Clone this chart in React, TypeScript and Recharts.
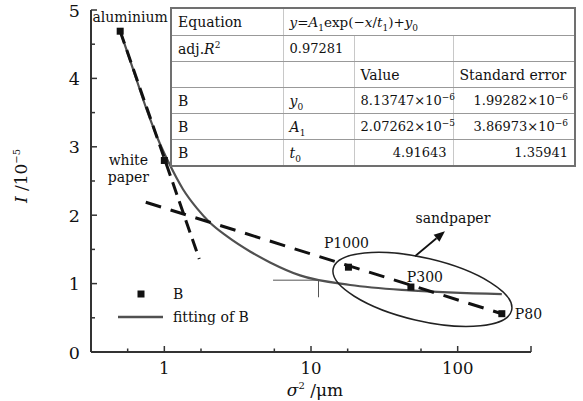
import { ComposedChart, Line, Scatter, XAxis, YAxis, Legend, ReferenceDot, ReferenceLine } from 'recharts';

// measured samples (sigma^2 in um, I in 1e-5)
const sampleX = [0.5, 1, 18, 48, 200];
const sampleI = [4.69, 2.8, 1.24, 0.95, 0.56];
const sampleNames = ['aluminium', 'white paper', 'P1000', 'P300', 'P80'];

// fitted curve
const fitX = [0.5, 0.615, 0.759, 0.91, 1.065, 1.34, 1.67, 2.05, 2.68, 3.84, 5.26, 8.42, 18.5, 47.3, 200];
const fitI = [4.69, 4.12, 3.54, 3.1, 2.78, 2.38, 2.1, 1.89, 1.69, 1.47, 1.31, 1.12, 0.98, 0.9, 0.845];

// the two dashed trend lines
const steepX = [0.5, 1.73];
const steepI = [4.69, 1.36];
const flatX = [0.747, 200];
const flatI = [2.19, 0.56];

const xTicks = [0.5623, 1, 1.778, 3.162, 5.623, 10, 17.78, 31.62, 56.23, 100, 177.8, 316.2];
const xLabels = [1, 10, 100];
const yTicks = [0, 0.5, 1, 1.5, 2, 2.5, 3, 3.5, 4, 4.5, 5];

// fit table
const adjR2 = '0.97281';
const paramSymbols = ['y', 'A', 't'];
const paramSubs = ['0', '1', '0'];
const paramValues = ['8.13747', '2.07262', '4.91643'];
const paramValueExp = ['−6', '−5', ''];
const paramErrors = ['1.99282', '3.86973', '1.35941'];
const paramErrorExp = ['−6', '−6', ''];

const FONT = '"DejaVu Serif", serif';

const points = sampleX.map((x, i) => ({ x, y: sampleI[i], name: sampleNames[i] }));
const fitData = fitX.map((x, i) => ({ x, y: fitI[i] }));
const steepData = steepX.map((x, i) => ({ x, y: steepI[i] }));
const flatData = flatX.map((x, i) => ({ x, y: flatI[i] }));

// where each point name sits relative to its marker
const labelPos: Record<string, { dx: number; dy: number; anchor: string }> = {
  aluminium: { dx: 10, dy: -9, anchor: 'middle' },
  P1000: { dx: -2, dy: -19, anchor: 'middle' },
  P300: { dx: 14, dy: -5, anchor: 'middle' },
  P80: { dx: 13, dy: 5, anchor: 'start' },
};

function PointShape(props: any) {
  const { cx, cy, payload } = props;
  const name = payload?.name;
  let label = null;
  if (name === 'white paper') {
    label = (
      <text x={cx - 36} y={cy + 5} textAnchor="middle" fontSize={14} fontFamily={FONT} fill="#111">
        <tspan x={cx - 36}>white</tspan>
        <tspan x={cx - 36} dy={17}>paper</tspan>
      </text>
    );
  } else if (labelPos[name]) {
    const p = labelPos[name];
    label = (
      <text x={cx + p.dx} y={cy + p.dy} textAnchor={p.anchor as any} fontSize={14} fontFamily={FONT} fill="#111">
        {name}
      </text>
    );
  }
  return (
    <g>
      <rect x={cx - 3.5} y={cy - 3.5} width={7} height={7} fill="#111" />
      {label}
    </g>
  );
}

function XTick(props: any) {
  const { x, y, payload } = props;
  const v = payload.value;
  const half = Math.abs(Math.log10(v) * 2 - Math.round(Math.log10(v) * 2)) < 0.01;
  const shown = xLabels.some((l) => Math.abs(l - v) < 1e-6);
  return (
    <g>
      <line x1={x} y1={y} x2={x} y2={y - (half ? 6 : 3.5)} stroke="#333" strokeWidth={1.5} />
      {shown && (
        <text x={x} y={y + 22} textAnchor="middle" fontSize={16.5} fontFamily={FONT} fill="#111">
          {v}
        </text>
      )}
    </g>
  );
}

function YTick(props: any) {
  const { x, y, payload } = props;
  const v = payload.value;
  const major = Number.isInteger(v);
  return (
    <g>
      <line x1={x} y1={y} x2={x + (major ? 6 : 4)} y2={y} stroke="#333" strokeWidth={1.5} />
      {major && (
        <text x={x - 11} y={y + 6.5} textAnchor="end" fontSize={17.5} fontFamily={FONT} fill="#111">
          {v}
        </text>
      )}
    </g>
  );
}

function ArrowShape(props: any) {
  const { x1, y1, x2, y2 } = props;
  const ang = Math.atan2(y2 - y1, x2 - x1);
  const len = 11;
  const w = 4.5;
  const bx = x2 - len * Math.cos(ang);
  const by = y2 - len * Math.sin(ang);
  const px = -Math.sin(ang) * w;
  const py = Math.cos(ang) * w;
  return (
    <g>
      <line x1={x1} y1={y1} x2={bx} y2={by} stroke="#111" strokeWidth={1.8} />
      <polygon points={`${x2},${y2} ${bx + px},${by + py} ${bx - px},${by - py}`} fill="#111" />
      <text x={x2 + 8} y={y2 - 8} textAnchor="middle" fontSize={14} fontFamily={FONT} fill="#111">
        sandpaper
      </text>
    </g>
  );
}

function EllipseShape(props: any) {
  const { cx, cy } = props;
  return (
    <ellipse cx={cx} cy={cy} rx={91.6} ry={31.4} transform={`rotate(13.2 ${cx} ${cy})`} fill="none" stroke="#222" strokeWidth={1.5} />
  );
}

function LegendBox() {
  return (
    <svg width={150} height={45}>
      <rect x={27.5} y={7.5} width={7} height={7} fill="#111" />
      <text x={63} y={16} fontSize={14} fontFamily={FONT} fill="#111">B</text>
      <line x1={8} y1={34} x2={53} y2={34} stroke="#505050" strokeWidth={2.5} />
      <text x={63} y={39} fontSize={14} fontFamily={FONT} fill="#111">fitting of B</text>
    </svg>
  );
}

const cell: React.CSSProperties = {
  borderRight: '1px solid #c8c8c8',
  borderBottom: '1px solid #999',
  padding: '0 6px',
  height: 25,
  whiteSpace: 'nowrap',
  overflow: 'visible',
};
const num: React.CSSProperties = { ...cell, textAlign: 'right', fontSize: 13 };
const sup: React.CSSProperties = { fontSize: 9, verticalAlign: 'super', lineHeight: 0 };
const sub: React.CSSProperties = { fontSize: 9, verticalAlign: 'sub', lineHeight: 0 };

function FitTable() {
  return (
    <table
      style={{
        position: 'absolute',
        left: 170,
        top: 7,
        width: 404,
        borderCollapse: 'collapse',
        tableLayout: 'fixed',
        background: '#fff',
        border: '2px solid #707070',
        fontFamily: FONT,
        fontSize: 14,
        color: '#111',
      }}
    >
      <colgroup>
        <col style={{ width: 112 }} />
        <col style={{ width: 71 }} />
        <col style={{ width: 99 }} />
        <col style={{ width: 122 }} />
      </colgroup>
      <tbody>
        <tr>
          <td style={{ ...cell, height: 26 }}>Equation</td>
          <td style={{ ...cell, fontSize: 13.5 }} colSpan={3}>
            <i>y</i>=<i>A</i><span style={sub}>1</span>exp(−<i>x</i>/<i>t</i><span style={sub}>1</span>)+<i>y</i><span style={sub}>0</span>
          </td>
        </tr>
        <tr>
          <td style={cell}>
            adj.<i>R</i><span style={sup}>2</span>
          </td>
          <td style={{ ...cell, fontSize: 13 }}>{adjR2}</td>
          <td style={cell}></td>
          <td style={cell}></td>
        </tr>
        <tr>
          <td style={cell}></td>
          <td style={cell}></td>
          <td style={cell}>Value</td>
          <td style={cell}>Standard error</td>
        </tr>
        {paramSymbols.map((s, i) => (
          <tr key={i}>
            <td style={cell}>B</td>
            <td style={cell}>
              <i>{s}</i>
              <span style={sub}>{paramSubs[i]}</span>
            </td>
            <td style={num}>
              {paramValues[i]}
              {paramValueExp[i] && (
                <>
                  ×10<span style={sup}>{paramValueExp[i]}</span>
                </>
              )}
            </td>
            <td style={num}>
              {paramErrors[i]}
              {paramErrorExp[i] && (
                <>
                  ×10<span style={sup}>{paramErrorExp[i]}</span>
                </>
              )}
            </td>
          </tr>
        ))}
      </tbody>
    </table>
  );
}

export default function App() {
  return (
    <div style={{ position: 'absolute', left: 0, top: 0, width: 583, height: 401, background: '#fff' }}>
      <ComposedChart width={583} height={401} margin={{ top: 10, right: 52, bottom: 0, left: 0 }}>
        <XAxis
          dataKey="x"
          type="number"
          scale="log"
          domain={[0.3162, 316.2]}
          ticks={xTicks}
          tick={<XTick />}
          tickLine={false}
          tickSize={0}
          tickMargin={0}
          height={49}
          axisLine={{ stroke: '#333', strokeWidth: 2 }}
          label={(p: any) => (
            <text x={p.viewBox.x + p.viewBox.width / 2 + 4} y={p.viewBox.y + 44} textAnchor="middle" fontSize={17} fontFamily={FONT} fill="#111">
              <tspan fontStyle="italic">σ</tspan>
              <tspan fontSize={10} dy={-7}>2</tspan>
              <tspan dy={7}> /μm</tspan>
            </text>
          )}
        />
        <YAxis
          dataKey="y"
          type="number"
          domain={[0, 5]}
          ticks={yTicks}
          tick={<YTick />}
          tickLine={false}
          tickSize={0}
          tickMargin={0}
          width={91}
          axisLine={{ stroke: '#333', strokeWidth: 2 }}
          label={(p: any) => {
            const cy = p.viewBox.y + p.viewBox.height / 2 - 5;
            return (
              <text x={27} y={cy} transform={`rotate(-90 27 ${cy})`} textAnchor="middle" fontSize={17} fontFamily={FONT} fill="#111">
                <tspan fontStyle="italic">I</tspan>
                <tspan> /10</tspan>
                <tspan fontSize={10} dy={-7}>−5</tspan>
              </text>
            );
          }}
        />
        <Line data={fitData} dataKey="y" type="monotone" stroke="#505050" strokeWidth={2.2} dot={false} isAnimationActive={false} />
        <Line data={steepData} dataKey="y" type="linear" stroke="#111" strokeWidth={3} strokeDasharray="13 7" dot={false} isAnimationActive={false} />
        <Line data={flatData} dataKey="y" type="linear" stroke="#111" strokeWidth={3} strokeDasharray="16 10" dot={false} isAnimationActive={false} />
        <Scatter data={points} dataKey="y" shape={PointShape} isAnimationActive={false} />
        <ReferenceDot x={57.5} y={0.915} shape={EllipseShape} />
        <ReferenceLine segment={[{ x: 51.2, y: 1.4 }, { x: 81.9, y: 1.767 }]} shape={ArrowShape} />
        <ReferenceLine segment={[{ x: 5.51, y: 1.05 }, { x: 11.25, y: 1.05 }]} stroke="#555" strokeWidth={1} />
        <ReferenceLine segment={[{ x: 11.25, y: 1.05 }, { x: 11.25, y: 0.8 }]} stroke="#555" strokeWidth={1} />
        <Legend
          layout="horizontal"
          verticalAlign="middle"
          align="center"
          wrapperStyle={{ left: 110, top: 283, width: 150, height: 45 }}
          content={<LegendBox />}
        />
      </ComposedChart>
      <FitTable />
    </div>
  );
}
